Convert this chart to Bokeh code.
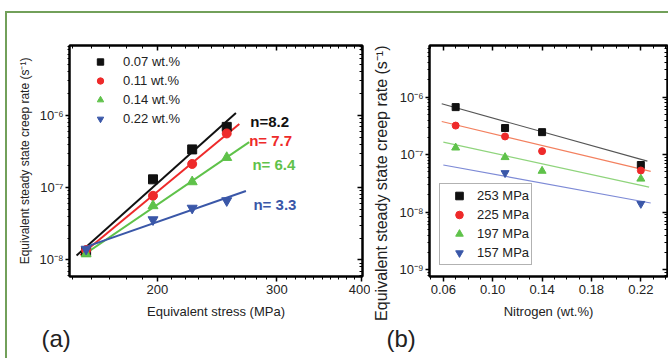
import numpy as np
from bokeh.plotting import figure
from bokeh.layouts import row
from bokeh.models import (FixedTicker, LogAxis, LinearAxis, Legend, LegendItem,
                          Title, Range1d)
from bokeh.core.properties import value
from bokeh.embed import file_html
from bokeh.resources import INLINE

FONT = "Liberation Sans"

# ---------------- Panel (a): rate vs stress, one series per nitrogen content
stress = [157, 197, 225, 253]
nitrogen_labels = ["0.07 wt.%", "0.11 wt.%", "0.14 wt.%", "0.22 wt.%"]
rate_n007 = [1.30e-8, 1.30e-7, 3.37e-7, 6.9e-7]
rate_n011 = [1.37e-8, 7.7e-8, 2.12e-7, 5.6e-7]
rate_n014 = [1.21e-8, 5.6e-8, 1.20e-7, 2.6e-7]
rate_n022 = [1.41e-8, 3.6e-8, 5.2e-8, 6.6e-8]
n_labels = ["n=8.2", "n= 7.7", "n= 6.4", "n= 3.3"]
n_label_x = [274, 273, 276, 277]
n_label_y = [8.3e-7, 4.46e-7, 2.09e-7, 5.78e-8]
fit_a_start = [152, 154, 155, 155]
fit_a_end = [261, 264, 273, 270]
a_x_ticks = [200, 300, 400]
a_x_tick_labels = ["200", "300", "400"]

# ---------------- Panel (b): rate vs nitrogen, one series per stress
nitrogen = [0.07, 0.11, 0.14, 0.22]
stress_labels = ["253 MPa", "225 MPa", "197 MPa", "157 MPa"]
rate_s253 = [6.7e-7, 2.9e-7, 2.46e-7, 6.6e-8]
rate_s225 = [3.2e-7, 2.07e-7, 1.15e-7, 5.3e-8]
rate_s197 = [1.32e-7, 9.0e-8, 5.2e-8, 3.8e-8]
nitrogen_s157 = [0.11, 0.22]
rate_s157 = [4.8e-8, 1.4e-8]
fit_b_x = [[0.0587, 0.2253], [0.0587, 0.228], [0.06, 0.2267], [0.06, 0.228]]
fit_b_y = [[7.67e-7, 7.7e-8], [3.77e-7, 5.1e-8], [1.65e-7, 2.72e-8], [6.6e-8, 1.44e-8]]
b_x_ticks = [0.06, 0.10, 0.14, 0.18, 0.22]
b_x_tick_labels = ["0.06", "0.10", "0.14", "0.18", "0.22"]

y_label = "Equivalent steady state creep rate (s\u207b\u00b9)"
decade_ticks = [1e-9, 1e-8, 1e-7, 1e-6]
decade_labels = ["10\u207b\u2079", "10\u207b\u2078", "10\u207b\u2077", "10\u207b\u2076"]

colors = ["#111111", "#ee2a2a", "#5fc24a", "#3a57a8"]
line_colors_b = ["#555555", "#f3805f", "#8fd47c", "#7d8ad6"]
markers = ["square", "circle", "triangle", "inverted_triangle"]

log_minor = [m * 10.0 ** e for e in range(-10, -4) for m in range(2, 10)]


def style_axes(p, xticker, yticker, x_overrides, y_overrides, xfs, yfs, xl, yl,
               xl_fs, yl_fs, xaxis_cls, xls, yls):
    for ax in p.xaxis + p.yaxis:
        ax.axis_line_width = 2
        ax.major_tick_line_width = 1.5
        ax.minor_tick_line_width = 1
        ax.major_label_text_font = FONT
        ax.major_label_text_color = "#222222"
        ax.axis_label_text_font = FONT
        ax.axis_label_text_font_style = "normal"
        ax.axis_label_text_color = "#222222"
    xa = p.xaxis[0]
    xa.ticker = xticker
    xa.major_label_overrides = x_overrides
    xa.major_label_text_font_size = xfs
    xa.major_tick_out = 5
    xa.major_tick_in = 0
    xa.minor_tick_out = 3
    xa.minor_tick_in = 0
    xa.major_label_standoff = 3
    xa.axis_label = xl
    xa.axis_label_text_font_size = xl_fs
    xa.axis_label_standoff = xls
    ya = p.yaxis[0]
    ya.ticker = yticker
    ya.major_label_overrides = y_overrides
    ya.major_label_text_font_size = yfs
    ya.major_tick_out = 4
    ya.major_tick_in = 0
    ya.minor_tick_out = 2
    ya.minor_tick_in = 0
    ya.major_label_standoff = 2
    ya.axis_label = yl
    ya.axis_label_text_font_size = yl_fs
    ya.axis_label_standoff = yls
    # mirrored axes with inward ticks, no labels
    top = xaxis_cls(ticker=xticker)
    right = LogAxis(ticker=yticker)
    for ax, ticks in ((top, xticker.ticks), (right, yticker.ticks)):
        ax.axis_line_width = 2
        ax.major_tick_line_width = 1.5
        ax.minor_tick_line_width = 1
        ax.major_tick_out = 0
        ax.minor_tick_out = 0
        ax.major_tick_in = 5
        ax.minor_tick_in = 3
        ax.major_label_overrides = {t: "" for t in ticks}
        ax.major_label_text_alpha = 0
        ax.major_label_text_font_size = "8px"
        ax.major_label_standoff = 0
    p.add_layout(top, "above")
    p.add_layout(right, "right")


# ======================= Figure (a)
pa = figure(width=370, height=358, x_axis_type="log", y_axis_type="log",
            x_range=Range1d(148.4, 401), y_range=Range1d(5.9e-9, 9.2e-6),
            output_backend="svg", toolbar_location=None,
            min_border_left=69, min_border_right=8, min_border_top=42,
            min_border_bottom=82)
pa.grid.visible = False
pa.outline_line_color = "black"
pa.outline_line_width = 2
pa.border_fill_alpha = 0

a_minor_x = [v for v in range(150, 400, 10) if v not in a_x_ticks]
style_axes(pa,
           FixedTicker(ticks=a_x_ticks, minor_ticks=a_minor_x),
           FixedTicker(ticks=decade_ticks, minor_ticks=log_minor),
           dict(zip(a_x_ticks, a_x_tick_labels)),
           dict(zip(decade_ticks, decade_labels)),
           "13px", "13px", "Equivalent stress (MPa)", y_label, "13px", "12px",
           LogAxis, 7, 5)

series_a = [rate_n007, rate_n011, rate_n014, rate_n022]
items_a = []
lx = np.log10(stress)
for i, ys in enumerate(series_a):
    k, b0 = np.polyfit(lx, np.log10(ys), 1)
    xs_fit = np.array([fit_a_start[i], fit_a_end[i]], dtype=float)
    pa.line(xs_fit, 10 ** (b0 + k * np.log10(xs_fit)), line_color=colors[i], line_width=2)
for i, ys in enumerate(series_a):
    size = 9 if markers[i] in ("square", "circle") else 10
    r = pa.scatter(stress, ys, marker=markers[i], size=size, fill_color=colors[i],
                   line_color=colors[i])
    items_a.append(LegendItem(label=nitrogen_labels[i], renderers=[r]))

pa.text(x=n_label_x, y=n_label_y, text=n_labels, text_color=colors,
        text_font=value(FONT), text_font_size="15px", text_font_style="bold",
        text_baseline="alphabetic", text_align="left")

leg_a = Legend(items=items_a, location=(18, 143), glyph_width=16, glyph_height=19,
               label_height=19, spacing=0, padding=5, label_standoff=15,
               border_line_alpha=0, background_fill_alpha=0,
               label_text_font=FONT, label_text_font_size="13px",
               label_text_color="#222222")
pa.add_layout(leg_a)
pa.add_layout(Title(text="(a)", align="left", offset=-28, text_font=FONT,
                    text_font_size="24px", text_font_style="normal",
                    text_color="#222222", standoff=2), "below")

# ======================= Figure (b)
pb = figure(width=298, height=358, y_axis_type="log",
            x_range=Range1d(0.0488, 0.2416), y_range=Range1d(7.6e-10, 7.9e-6),
            output_backend="svg", toolbar_location=None,
            min_border_left=56, min_border_right=1, min_border_top=45,
            min_border_bottom=82)
pb.grid.visible = False
pb.outline_line_color = "black"
pb.outline_line_width = 2
pb.border_fill_alpha = 0

b_minor_x = [round(0.05 + 0.01 * i, 2) for i in range(20)]
style_axes(pb,
           FixedTicker(ticks=b_x_ticks, minor_ticks=b_minor_x),
           FixedTicker(ticks=decade_ticks, minor_ticks=log_minor),
           dict(zip(b_x_ticks, b_x_tick_labels)),
           dict(zip(decade_ticks, decade_labels)),
           "13px", "13px", "Nitrogen (wt.%)", y_label + "\u00a0" * 10, "13px", "16px",
           LinearAxis, 7, 6)

for i in range(4):
    pb.line(fit_b_x[i], fit_b_y[i], line_color=line_colors_b[i], line_width=1.2)

series_b = [(nitrogen, rate_s253), (nitrogen, rate_s225), (nitrogen, rate_s197),
            (nitrogen_s157, rate_s157)]
items_b = []
for i, (xs, ys) in enumerate(series_b):
    size = 7 if markers[i] in ("square", "circle") else 8
    r = pb.scatter(xs, ys, marker=markers[i], size=size, fill_color=colors[i],
                   line_color=colors[i])
    items_b.append(LegendItem(label=stress_labels[i], renderers=[r]))

leg_b = Legend(items=items_b, location=(10, 11), glyph_width=34, glyph_height=19,
               label_height=19, spacing=0, padding=2, label_standoff=1,
               border_line_color="#666666", border_line_width=1.5,
               background_fill_color="white", background_fill_alpha=1,
               label_text_font=FONT, label_text_font_size="13px",
               label_text_color="#222222")
pb.add_layout(leg_b)
pb.add_layout(Title(text="(b)", align="left", offset=-43, text_font=FONT,
                    text_font_size="24px", text_font_style="normal",
                    text_color="#222222", standoff=2), "below")

green = "#72a05a"
layout = row(pa, pb, styles={
    "background-color": "white",
    "background-image": f"linear-gradient({green},{green}), linear-gradient({green},{green})",
    "background-size": "100% 2px, 2px 100%",
    "background-position": "5px 11px, 5px 11px",
    "background-repeat": "no-repeat",
})

open("out.html", "w").write(file_html(layout, INLINE))
